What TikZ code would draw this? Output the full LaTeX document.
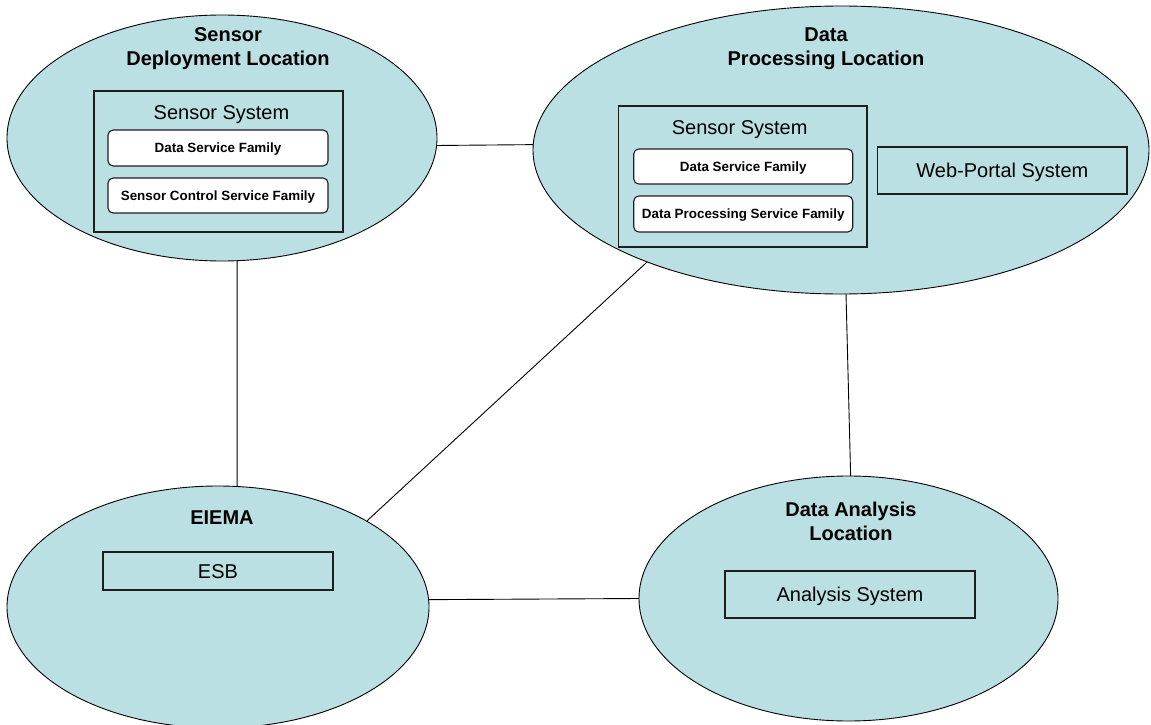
\documentclass[tikz,border=0pt]{standalone}
\usepackage{fontspec}
\setmainfont{Liberation Sans}
\usetikzlibrary{shapes.geometric}
\definecolor{sitefill}{RGB}{187,224,227}
\definecolor{edgeink}{RGB}{30,30,30}
\tikzset{
  site/.style={ellipse, draw=black, line width=0.9pt, fill=sitefill, inner sep=0pt, outer sep=0pt},
  sitetitle/.style={anchor=north, inner sep=0pt, align=center, font=\fontsize{20}{24}\selectfont\bfseries},
  sitename/.style={inner sep=0pt, font=\fontsize{20}{24}\selectfont\bfseries, text height=14.4pt, text depth=0pt},
  container/.style={draw=edgeink, line width=1.1pt, inner sep=0pt, outer sep=0pt},
  syslabel/.style={inner sep=0pt, font=\fontsize{20}{24}\selectfont, text height=14.4pt, text depth=0pt},
  sysbox/.style={draw=edgeink, line width=1.1pt, inner sep=0pt, outer sep=0pt, font=\fontsize{20}{24}\selectfont, text height=14.4pt, text depth=0pt},
  family/.style={draw=edgeink, line width=1.1pt, fill=white, rounded corners=5pt, inner sep=0pt, outer sep=0pt, font=\fontsize{13.4}{16}\selectfont\bfseries, text height=9.6pt, text depth=0pt},
  link/.style={draw=black, line width=0.9pt},
}
\begin{document}
\begin{tikzpicture}[x=1pt,y=-1pt]
\useasboundingbox (0,0) rectangle (1151,725);

% locations
\node[site, minimum width=430pt, minimum height=246pt] (e1) at (222,138) {};
\node[site, minimum width=616pt, minimum height=288pt] (e2) at (841,150) {};
\node[site, minimum width=422pt, minimum height=242pt] (e3) at (218,607) {};
\node[site, minimum width=419pt, minimum height=245pt] (e4) at (848.5,598.5) {};

% links between locations
\draw[link] (e1.-2.4) -- (e2.179.4);
\draw[link] (e1.-83) -- (e3.81);
\draw[link] (e2.210) -- (e3.30);
\draw[link] (e2.-88) -- (e4.89.3);
\draw[link] (e3.2.2) -- (e4.west);

% sensor deployment location
\node[sitetitle] (t1) at (228,27.5) {Sensor\\Deployment Location};
\node[container, minimum width=249pt, minimum height=141pt] (s1) at (218.5,161.5) {};
\node[syslabel] (s1l) at (221.5,112) {Sensor System};
\node[family, minimum width=220pt, minimum height=36pt] (f1a) at (218,148) {Data Service Family};
\node[family, minimum width=220pt, minimum height=35pt] (f1b) at (218,195.5) {Sensor Control Service Family};

% data processing location
\node[sitetitle] (t2) at (826,27.5) {Data\\Processing Location};
\node[container, minimum width=248.5pt, minimum height=141pt] (s2) at (742.75,176.5) {};
\node[syslabel] (s2l) at (739.7,127) {Sensor System};
\node[family, minimum width=219pt, minimum height=35pt] (f2a) at (743.25,166.5) {Data Service Family};
\node[family, minimum width=219pt, minimum height=36pt] (f2b) at (743.25,214) {Data Processing Service Family};
\node[sysbox, minimum width=249.3pt, minimum height=47pt] (wp) at (1002.35,170.5) {Web-Portal System};

% EIEMA
\node[sitename] (t3) at (222,517) {EIEMA};
\node[sysbox, minimum width=230pt, minimum height=38pt] (esb) at (218,571) {ESB};

% data analysis location
\node[sitetitle] (t4) at (851,501.5) {Data Analysis\\Location};
\node[sysbox, minimum width=250pt, minimum height=47pt] (an) at (850,594.5) {Analysis System};
\end{tikzpicture}
\end{document}
